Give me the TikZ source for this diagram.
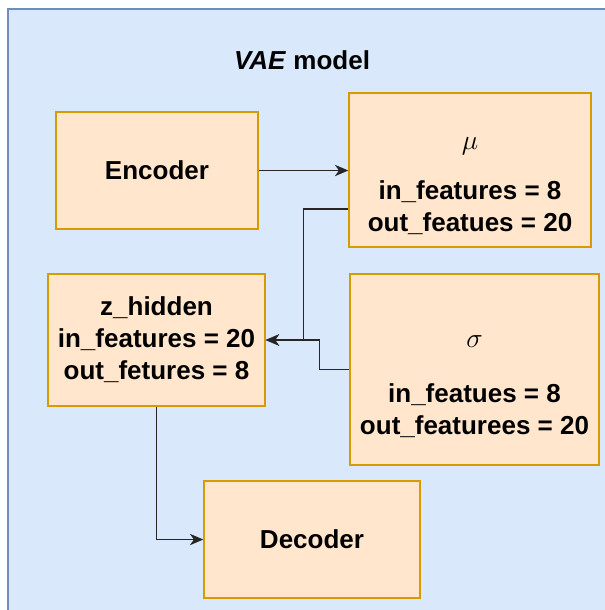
\documentclass[tikz,border=0pt]{standalone}
\usepackage{fontspec}
\setmainfont{Liberation Sans}
\usetikzlibrary{arrows.meta}
\definecolor{frameblue}{HTML}{DAE8FC}
\definecolor{frameline}{HTML}{6C8EBF}
\definecolor{layerfill}{HTML}{FFE6CC}
\definecolor{layerline}{HTML}{D79B00}
\begin{document}
\begin{tikzpicture}[x=0.75pt,y=-0.75pt,every node/.style={font=\fontsize{19.5}{24}\selectfont\bfseries}]
    \tikzset{
      layer/.style={draw=layerline,fill=layerfill,line width=1.1pt,align=center,inner sep=0pt},
      layertext/.style={align=center,inner sep=0pt},
      conn/.style={-{Stealth[length=10pt,width=8.5pt,inset=3pt]},line width=1.1pt,black!85}
    }
    \useasboundingbox (0,0) rectangle (605,610);
    \clip (0,0) rectangle (605,610);
    \draw[frameline,fill=frameblue,line width=1.1pt] (8,9) rectangle (640,640);
    \node (title) at (302,60) {\textit{VAE} model};

    \node[layer,minimum width=151.5pt,minimum height=87.75pt] (enc) at (157,170.5) {Encoder};
    \node[layer,minimum width=181.5pt,minimum height=115.5pt] (mu) at (470,170) {};
    \node[layertext] (mu-txt) at ([yshift=-12pt]mu.center) {{\mdseries\fontsize{22}{24}\selectfont$\mu$}\\[13pt]in\_features = 8\\out\_featues = 20};
    \node[layer,minimum width=162.75pt,minimum height=99pt] (zh) at (156.5,340) {z\_hidden\\in\_features = 20\\out\_fetures = 8};
    \node[layer,minimum width=186.75pt,minimum height=143.25pt] (sg) at (474.5,369.5) {};
    \node[layertext] (sg-txt) at ([yshift=-12.75pt]sg.center) {{\mdseries\fontsize{22}{24}\selectfont$\sigma$}\\[17pt]in\_featues = 8\\out\_featurees = 20};
    \node[layer,minimum width=162pt,minimum height=87.75pt] (dec) at (312,539.5) {Decoder};

    \draw[conn] (enc.east) -- (enc.east -| mu.west);
    \draw[conn] ([yshift=-29.25pt]mu.west) -- ++(-45,0) |- (zh.east);
    \draw[conn] (sg.west) -- ++(-30,0) |- (zh.east);
    \draw[conn] (zh.south) |- (dec.west);
  \end{tikzpicture}
\end{document}
